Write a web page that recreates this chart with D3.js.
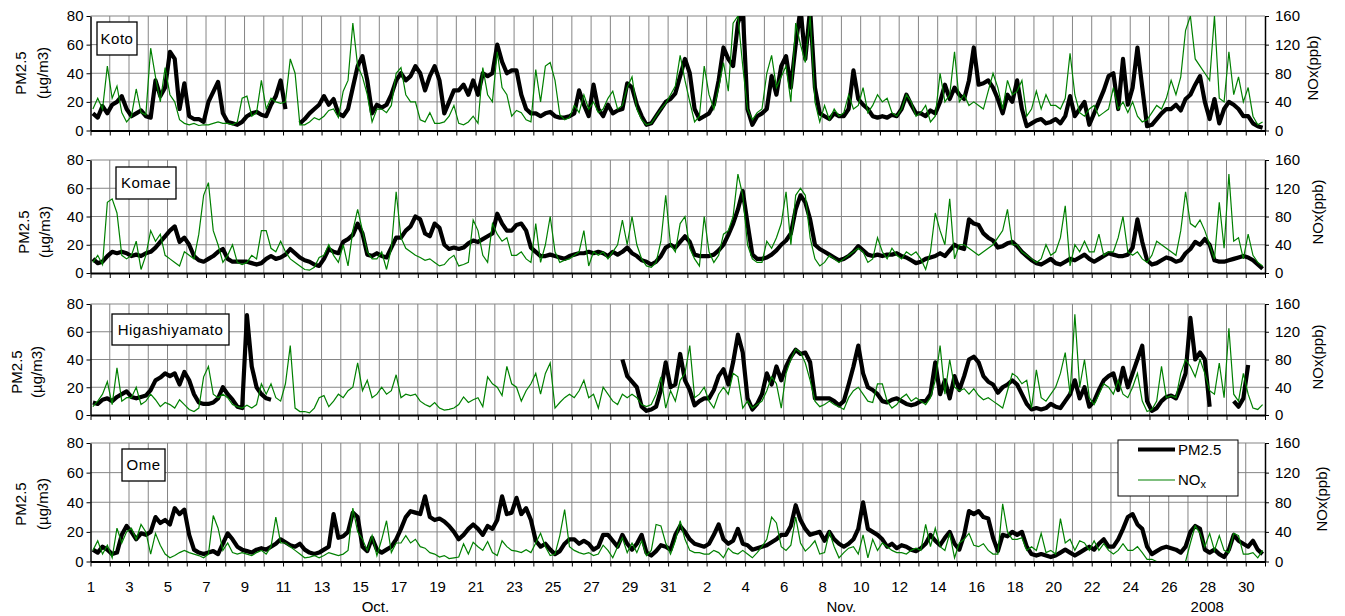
<!DOCTYPE html>
<html lang="en">
<head>
<meta charset="UTF-8">
<title>PM2.5 and NOx, Oct-Nov 2008</title>
<style>
  body { margin: 0; background: #fff; }
  svg { display: block; font-family: 'Liberation Sans', Arial, sans-serif; }
</style>
</head>
<body>
<script src="https://cdn.jsdelivr.net/npm/d3@7/dist/d3.min.js"></script>
<script>
// 4 readings per day (6-hour steps), Oct 1 .. Nov 30 2008; null = no data
var kotoPM = [
  12,9,17,12, 18,20,24,15, 10,12,14,10, 9,35,24,30, 55,50,15,33,
  10,8,8,6, 20,27,34,12, 6,5,4,6, 10,12,13,11, 10,18,24,35,
  15,null,null,5, 8,12,15,18, 24,18,22,12, 10,15,30,45, 52,35,12,18,
  16,18,25,35, 40,35,38,45, 40,28,38,45, 35,12,20,28, 28,32,25,35,
  25,40,38,40, 60,48,40,42, 42,25,15,12, 12,10,12,13, 10,9,9,10,
  12,28,18,10, 32,15,10,18, 12,14,15,33, 30,18,10,4, 5,10,15,20,
  22,26,38,50, 40,15,8,10, 12,18,35,58, 50,45,75,85, 15,4,10,12,
  15,38,25,45, 52,30,60,85, 50,85,30,12, 10,8,12,10, 10,15,42,22,
  18,15,10,9, 10,9,11,10, 15,25,18,12, 12,10,14,12, 20,32,22,30,
  25,22,35,58, 32,33,35,30, 22,12,25,20, 35,15,3,5, 7,8,5,6,
  8,5,10,24, 10,15,20,4, 12,20,28,38, 40,15,50,18, 30,58,30,3,
  4,8,12,15, 15,18,14,22, 25,32,38,20, 8,22,5,15, 20,18,15,10,
  10,5,3,2
];
var kotoNOx = [
  30,45,30,90, 45,62,25,12, 20,58,25,22, 115,75,40,88, 50,40,15,10,
  8,10,7,8, 8,10,12,10, 10,8,12,45, 48,20,25,70, 30,45,40,38,
  40,100,80,8, 8,12,18,15, 20,28,30,18, 55,70,150,90, 75,50,12,30,
  30,25,35,80, 88,50,40,40, 15,12,25,10, 10,12,20,35, 10,8,12,20,
  10,88,50,40, 110,60,50,20, 28,25,15,12, 85,40,90,95, 70,22,15,18,
  35,25,50,30, 40,25,30,45, 55,30,35,60, 75,30,15,8, 10,20,30,38,
  50,62,105,70, 40,12,20,90, 50,30,60,95, 55,150,160,90, 30,15,25,30,
  80,105,60,75, 90,40,150,120, 95,160,40,12, 35,15,30,20, 25,50,30,35,
  60,25,35,50, 40,45,25,20, 30,50,40,20, 25,35,12,20, 80,40,50,110,
  40,50,35,40, 35,30,55,80, 60,30,70,50, 55,70,20,30, 55,30,50,35,
  35,30,45,108, 50,25,20,30, 35,20,25,30, 60,30,40,25, 40,20,12,15,
  25,35,30,45, 70,50,75,140, 160,100,90,80, 70,160,45,40, 110,50,75,40,
  60,20,8,12
];
var komaePM = [
  10,7,8,12, 15,14,15,14, 12,13,12,14, 15,18,22,26, 30,33,22,25,
  20,12,9,8, 10,12,15,17, 10,8,8,8, 8,7,6,7, 10,12,10,11,
  13,17,14,11, 9,8,6,5, 10,17,15,14, 22,24,27,35, 28,13,12,14,
  12,11,18,25, 25,30,33,40, 38,28,26,35, 32,20,17,18, 17,18,21,23,
  22,24,26,28, 42,35,30,30, 34,35,30,18, 15,12,12,13, 12,11,10,12,
  13,14,14,15, 14,15,14,12, 15,13,15,18, 14,12,9,8, 6,8,12,18,
  20,18,22,26, 22,13,12,12, 12,13,16,20, 27,35,45,58, 35,13,10,10,
  11,13,16,20, 23,28,45,55, 50,38,20,17, 15,13,11,9, 10,12,15,19,
  16,13,12,13, 12,13,13,14, 12,11,9,7, 8,10,11,12, 14,12,16,20,
  18,17,38,35, 34,28,25,23, 18,19,21,22, 19,15,12,9, 7,6,8,10,
  7,6,8,10, 9,11,13,10, 8,10,12,14, 13,12,12,13, 18,38,22,9,
  6,7,9,11, 10,8,9,14, 17,22,20,24, 20,9,8,8, 9,10,11,12,
  11,9,6,3
];
var komaeNOx = [
  15,25,12,100, 105,85,25,20, 25,45,5,25, 60,45,55,25, 20,15,10,30,
  25,20,55,110, 128,60,40,15, 25,40,15,12, 15,25,20,60, 60,35,30,45,
  30,20,15,10, 5,4,8,22, 25,40,25,15, 40,10,60,90, 60,30,20,20,
  30,5,35,115, 50,35,30,25, 22,18,20,15, 10,12,20,25, 10,12,15,75,
  60,25,15,70, 55,45,50,25, 25,30,20,15, 70,15,40,80, 30,15,18,20,
  25,30,60,10, 30,25,30,20, 30,40,75,40, 80,40,20,10, 8,15,45,110,
  40,30,70,80, 35,20,10,80, 30,15,25,55, 60,80,140,110, 40,20,15,15,
  45,35,50,70, 115,40,110,120, 110,50,20,10, 15,25,20,15, 20,25,30,35,
  30,15,20,50, 30,20,35,25, 20,30,25,30, 20,5,30,85, 60,40,105,20,
  40,40,35,30, 25,30,35,40, 50,60,90,40, 40,30,25,20, 15,20,40,25,
  30,50,95,10, 40,30,45,30, 30,55,25,30, 30,50,80,30, 25,30,20,15,
  25,45,40,35, 30,25,60,115, 70,65,75,60, 40,20,100,35, 140,45,50,20,
  55,25,15,10
];
var higaPM = [
  9,8,11,12, 10,13,15,17, 13,12,13,14, 18,25,27,30, 28,30,22,31,
  25,15,9,8, 8,9,12,20, 15,11,6,5, 72,35,20,15, 12,11,null,null,
  null,null,null,null, null,null,null,null, null,null,null,null, null,null,null,null, null,null,null,null,
  null,null,null,null, null,null,null,null, null,null,null,null, null,null,null,null, null,null,null,null,
  null,null,null,null, null,null,null,null, null,null,null,null, null,null,null,null, null,null,null,null,
  null,null,null,null, null,null,null,null, null,null,40,28, 24,20,6,3, 4,6,18,38,
  20,22,44,25, 18,7,10,12, 12,18,28,33, 22,38,58,45, 12,4,8,15,
  30,22,35,25, 35,42,47,44, 45,38,12,12, 12,12,10,7, 10,22,35,50,
  30,20,18,15, 10,9,11,12, 10,8,7,8, 10,10,15,38, 15,25,12,28,
  18,28,40,42, 38,28,24,22, 16,20,22,25, 22,15,8,4, 5,4,5,8,
  6,5,10,15, 25,12,20,6, 10,18,25,28, 30,18,34,20, 30,40,50,10,
  3,5,10,13, 14,12,20,30, 70,40,45,40, 6,null,null,null, null,10,6,12,
  36,null,null,null
];
var higaNOx = [
  12,20,30,48, 15,68,20,25, 25,40,15,20, 30,22,12,18, 15,10,22,15,
  8,5,10,55, 70,30,25,30, 25,15,12,10, 14,10,15,45, 30,45,25,20,
  45,100,10,5, 5,3,10,25, 28,12,20,30, 25,35,40,75, 35,50,25,30,
  40,30,35,58, 25,30,28,30, 20,15,12,18, 10,7,8,10, 15,26,18,22,
  25,12,55,45, 40,28,70,45, 40,20,35,45, 60,30,60,75, 10,18,25,30,
  25,35,50,25, 30,10,40,30, 20,15,30,25, 30,25,15,12, 15,30,55,10,
  35,20,50,60, 100,25,30,40, 20,10,30,40, 30,60,55,10, 20,10,15,20,
  35,55,45,10, 60,80,95,90, 75,50,20,12, 15,20,15,12, 8,25,35,40,
  30,20,18,45, 45,20,10,15, 25,30,20,25, 20,15,25,50, 100,30,80,40,
  35,38,30,38, 28,22,25,20, 15,10,35,60, 55,45,50,10, 65,25,20,30,
  40,60,90,30, 145,40,80,25, 15,30,45,40, 30,50,30,25, 40,60,20,5,
  8,20,70,25, 28,25,60,80, 70,55,80,60, 35,30,75,25, 125,30,20,60,
  30,10,8,15
];
var omePM = [
  8,6,10,8, 5,6,18,24, 20,15,19,18, 20,30,26,28, 25,36,32,35,
  18,8,6,5, 6,7,5,12, 19,15,10,8, 7,6,8,9, 8,10,12,15,
  13,11,10,12, 8,6,5,6, 8,10,32,16, 17,20,33,30, 10,7,16,8,
  6,8,10,15, 22,30,34,33, 32,44,30,28, 29,27,24,20, 15,18,22,25,
  22,18,24,22, 28,44,32,33, 43,32,36,28, 14,10,12,8, 5,7,12,15,
  15,12,14,12, 8,10,18,18, 14,10,18,12, 8,12,18,6, 4,7,11,10,
  8,18,24,20, 15,12,11,10, 12,18,25,15, 12,14,22,12, 11,8,9,10,
  11,13,15,18, 18,24,38,28, 22,18,19,20, 14,20,15,12, 10,12,15,22,
  40,22,20,18, 15,10,12,9, 11,10,8,7, 9,12,18,14, 11,16,20,12,
  8,18,34,32, 34,30,29,16, 7,18,17,20, 18,20,10,5, 4,5,4,3,
  4,6,8,6, 4,6,8,10, 8,12,15,10, 10,15,22,30, 32,25,22,10,
  5,7,9,10, 9,8,6,10, 20,24,22,8, 6,8,5,3, 8,18,14,12,
  10,14,8,5
];
var omeNOx = [
  15,28,10,22, 5,45,25,40, 45,30,50,40, 10,38,22,10, 5,8,12,15,
  12,10,8,5, 10,62,45,15, 25,12,10,12, 10,8,12,15, 10,20,60,25,
  25,20,15,10, 5,6,8,5, 8,12,10,8, 10,15,72,40, 30,15,35,8,
  30,55,12,25, 25,35,25,30, 20,18,12,10, 6,8,4,5, 6,24,10,26,
  20,15,27,12, 8,28,20,15, 14,12,16,12, 25,38,20,8, 10,35,70,20,
  15,12,10,12, 8,10,22,15, 5,20,32,12, 25,12,28,8, 15,50,48,25,
  10,28,55,30, 15,12,12,10, 10,15,12,5, 18,12,10,15, 10,5,12,20,
  30,60,52,20, 15,22,60,25, 14,20,28,10, 12,40,20,5, 12,18,20,10,
  36,5,30,15, 25,20,15,12, 12,10,15,18, 15,50,20,45, 20,15,38,5,
  25,30,38,22, 20,24,15,10, 10,78,40,30, 30,32,15,20, 15,38,12,15,
  10,58,25,30, 15,28,25,15, 28,15,24,15, 10,15,24,15, 15,20,12,3,
  3,0,0,0, 0,0,0,0, 25,48,38,20, 38,15,35,15, 12,38,35,10,
  10,12,5,15
];

var pmTicks = [0, 20, 40, 60, 80];
var noxTicks = [0, 40, 80, 120, 160];
// labels under every second day (Oct 1, 3 ... 31, Nov 2 ... 30)
var xTickLabels = ['1','3','5','7','9','11','13','15','17','19','21','23','25','27','29','31',
  '2','4','6','8','10','12','14','16','18','20','22','24','26','28','30'];
var monthNames = ['Oct.', 'Nov.', '2008'];
var monthDays = [14.8, 39, 58];

var perDay = 4;
var nDays = 61;
var font = "'Liberation Sans', Arial, sans-serif";
var green = '#008000';

var svg = d3.select('body').append('svg')
    .attr('width', 1345)
    .attr('height', 616);

var x = d3.scaleLinear().domain([0, nDays]).range([90.5, 1265]);

var panels = [
  {name: 'Koto', pm: kotoPM, nox: kotoNOx, top: 16, bottom: 130.5,
   box: [97, 22, 40, 33], lx: [20.5, 42.5], ly: 73, rx: 1313, ry: 68},
  {name: 'Komae', pm: komaePM, nox: komaeNOx, top: 160, bottom: 273,
   box: [116, 167, 60, 32], lx: [24, 45], ly: 232, rx: 1318, ry: 212},
  {name: 'Higashiyamato', pm: higaPM, nox: higaNOx, top: 304, bottom: 415,
   box: [112, 314, 117, 31], lx: [17, 37], ly: 372, rx: 1318, ry: 357},
  {name: 'Ome', pm: omePM, nox: omeNOx, top: 443, bottom: 561.5,
   box: [122, 449, 43, 32], lx: [21, 43], ly: 504, rx: 1322, ry: 499}
];

function styleAxis(g) {
    g.attr('font-family', font).attr('font-size', 15);
    g.selectAll('text').attr('fill', '#000');
    g.selectAll('line').attr('stroke', '#000');
    g.select('.domain').attr('stroke', '#000');
}

panels.forEach(function(p, pi) {
    var yPM = d3.scaleLinear().domain([0, 80]).range([p.bottom, p.top]);
    var yNOx = d3.scaleLinear().domain([0, 160]).range([p.bottom, p.top]);
    var g = svg.append('g');

    var clipId = 'clip' + pi;
    svg.append('clipPath').attr('id', clipId)
        .append('rect')
        .attr('x', x(0))
        .attr('y', p.top)
        .attr('width', x(nDays) - x(0))
        .attr('height', p.bottom - p.top);

    // grid
    g.append('g').selectAll('line')
        .data(pmTicks.slice(1))
        .enter().append('line')
        .attr('x1', x(0)).attr('x2', x(nDays))
        .attr('y1', function(d) { return yPM(d); })
        .attr('y2', function(d) { return yPM(d); })
        .attr('stroke', '#858585').attr('stroke-width', 1);
    g.append('g').selectAll('line')
        .data(d3.range(1, nDays))
        .enter().append('line')
        .attr('x1', function(d) { return x(d); })
        .attr('x2', function(d) { return x(d); })
        .attr('y1', p.top).attr('y2', p.bottom)
        .attr('stroke', '#858585').attr('stroke-width', 1);

    function lineFor(yScale) {
        return d3.line()
            .defined(function(v) { return v != null; })
            .x(function(v, i) { return x((i + 0.5) / perDay); })
            .y(function(v) { return yScale(v); });
    }

    g.append('path').datum(p.pm)
        .attr('d', lineFor(yPM))
        .attr('fill', 'none')
        .attr('stroke', '#000')
        .attr('stroke-width', 4.2)
        .attr('stroke-linejoin', 'round')
        .attr('clip-path', 'url(#' + clipId + ')');

    g.append('path').datum(p.nox)
        .attr('d', lineFor(yNOx))
        .attr('fill', 'none')
        .attr('stroke', green)
        .attr('stroke-width', 1.2)
        .attr('clip-path', 'url(#' + clipId + ')');

    // axes
    var left = g.append('g')
        .attr('transform', 'translate(' + x(0) + ',0)')
        .call(d3.axisLeft(yPM).tickValues(pmTicks).tickSize(4).tickSizeOuter(0).tickPadding(3));
    styleAxis(left);
    left.select('.domain').attr('stroke-width', 1.5);

    var right = g.append('g')
        .attr('transform', 'translate(' + x(nDays) + ',0)')
        .call(d3.axisRight(yNOx).tickValues(noxTicks).tickSize(4).tickSizeOuter(0).tickPadding(6));
    styleAxis(right);
    right.select('.domain').attr('stroke-width', 1.5);

    var bottom = g.append('g')
        .attr('transform', 'translate(0,' + p.bottom + ')')
        .call(d3.axisBottom(x)
            .tickValues(d3.range(0, nDays + 1))
            .tickSize(5)
            .tickSizeOuter(0)
            .tickPadding(15)
            .tickFormat(function(d) {
                return (pi === panels.length - 1 && d % 2 === 0 && d < nDays) ? xTickLabels[d / 2] : '';
            }));
    styleAxis(bottom);
    bottom.select('.domain').attr('stroke-width', 2);

    // axis titles
    g.append('text')
        .attr('transform', 'translate(' + p.lx[0] + ',' + p.ly + ') rotate(-90)')
        .attr('dy', '0.35em')
        .attr('text-anchor', 'middle')
        .attr('font-size', 15)
        .text('PM2.5');
    g.append('text')
        .attr('transform', 'translate(' + p.lx[1] + ',' + p.ly + ') rotate(-90)')
        .attr('dy', '0.35em')
        .attr('text-anchor', 'middle')
        .attr('font-size', 15)
        .text('(\u00b5g/m3)');
    g.append('text')
        .attr('transform', 'translate(' + p.rx + ',' + p.ry + ') rotate(-90)')
        .attr('dy', '0.35em')
        .attr('text-anchor', 'middle')
        .attr('font-size', 15)
        .text('NOx(ppb)');

    // site label
    g.append('rect')
        .attr('x', p.box[0]).attr('y', p.box[1])
        .attr('width', p.box[2]).attr('height', p.box[3])
        .attr('fill', '#fff').attr('stroke', '#000').attr('stroke-width', 1.3);
    g.append('text')
        .attr('x', p.box[0] + p.box[2] / 2)
        .attr('y', p.box[1] + p.box[3] / 2)
        .attr('dy', '0.36em')
        .attr('text-anchor', 'middle')
        .attr('font-size', 15)
        .attr('letter-spacing', 0.5)
        .text(p.name);
});

// month labels under the bottom panel
svg.append('g').selectAll('text')
    .data(monthNames)
    .enter().append('text')
    .attr('x', function(d, i) { return x(monthDays[i]); })
    .attr('y', 612)
    .attr('text-anchor', 'middle')
    .attr('font-size', 15)
    .text(function(d) { return d; });

// legend
var lg = svg.append('g');
lg.append('rect')
    .attr('x', 1118).attr('y', 440).attr('width', 120).attr('height', 56)
    .attr('fill', '#fff').attr('stroke', '#000').attr('stroke-width', 1);
lg.append('line')
    .attr('x1', 1138).attr('x2', 1175).attr('y1', 449.5).attr('y2', 449.5)
    .attr('stroke', '#000').attr('stroke-width', 4);
lg.append('text')
    .attr('x', 1178).attr('y', 449.5).attr('dy', '0.36em')
    .attr('font-size', 15).text('PM2.5');
lg.append('line')
    .attr('x1', 1138).attr('x2', 1175).attr('y1', 480).attr('y2', 480)
    .attr('stroke', green).attr('stroke-width', 1.2);
var nt = lg.append('text')
    .attr('x', 1178).attr('y', 480).attr('dy', '0.36em')
    .attr('font-size', 15);
nt.append('tspan').text('NO');
nt.append('tspan').attr('font-size', 11).attr('dy', 3).text('x');
</script>
</body>
</html>
